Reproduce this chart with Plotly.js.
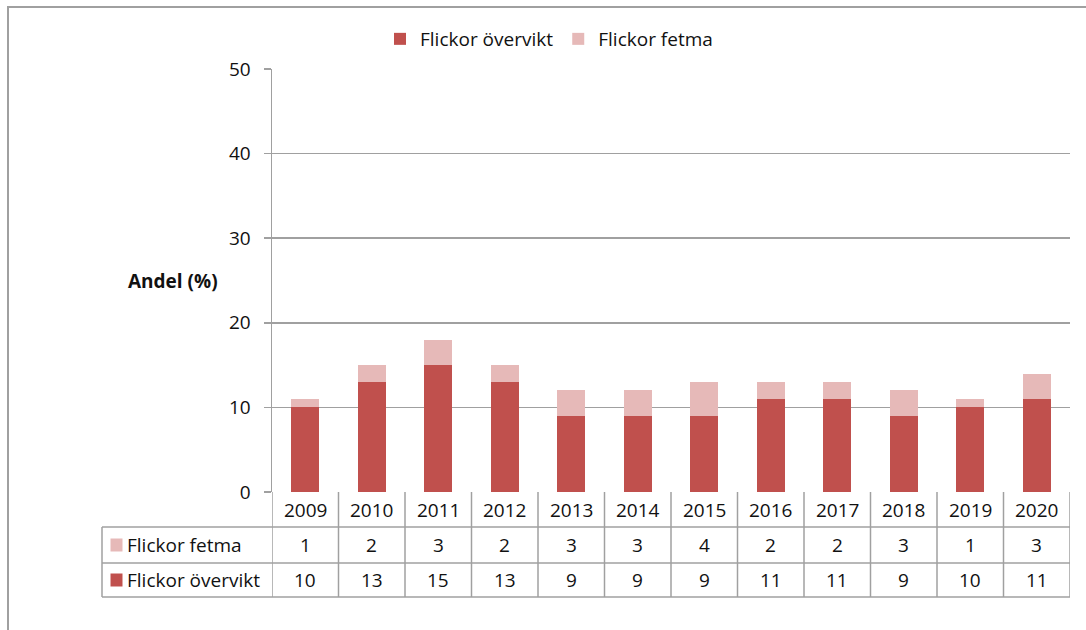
<!DOCTYPE html>
<html><head><meta charset="utf-8">
<script src="https://cdn.plot.ly/plotly-3.0.1.min.js"></script>
<style>body{margin:0;background:#fff}#chart{width:1086px;height:630px}</style>
</head><body><div id="chart"></div>
<script>
const years = ['2009','2010','2011','2012','2013','2014','2015','2016','2017','2018','2019','2020'];
const overvikt = [10,13,15,13,9,9,9,11,11,9,10,11];
const fetma = [1,2,3,2,3,3,4,2,2,3,1,3];
const seriesNames = ['Flickor övervikt','Flickor fetma'];
const yTicks = [0,10,20,30,40,50];
const yTitle = 'Andel (%)';

const colors = ['#C0504D','#E6B9B8'];
const gridColor = '#a0a0a0';
const textColor = '#111111';
const FONT = 'Open Sans, Liberation Sans, sans-serif';
const FS = 19;

// pixel -> paper helpers (plot area 272..1070 x 69..492)
const L = 272, R = 1070, T = 69, B = 492;
const W = R - L, H = B - T;
const xp = px => (px - L) / W;
const yp = py => (B - py) / H;

const traces = [
  {type:'bar', name:seriesNames[0], x:years, y:overvikt, marker:{color:colors[0]}, width:0.42, hoverinfo:'skip'},
  {type:'bar', name:seriesNames[1], x:years, y:fetma, marker:{color:colors[1]}, width:0.42, hoverinfo:'skip'}
];

const shapes = [];
const annotations = [];
const lineStyle = {color:gridColor, width:1.5};

// table vertical lines at category boundaries
for (let i = 0; i <= years.length; i++) {
  shapes.push({type:'line', xref:'x', yref:'paper', x0:i-0.5, x1:i-0.5, y0:yp(492), y1:yp(597), line:lineStyle});
}
// left border of label column
shapes.push({type:'line', xref:'paper', yref:'paper', x0:xp(102), x1:xp(102), y0:yp(527), y1:yp(597), line:lineStyle});
// horizontal lines
[527, 563, 597].forEach(py => {
  shapes.push({type:'line', xref:'paper', yref:'paper', x0:xp(102), x1:1, y0:yp(py), y1:yp(py), line:lineStyle});
});
// outer chart border
shapes.push({type:'rect', xref:'paper', yref:'paper', x0:xp(8), x1:xp(1100), y0:yp(7), y1:yp(650), line:{color:gridColor, width:2}, fillcolor:'rgba(0,0,0,0)'});

// legend keys in table
const rowY = [545, 580];
const rowSeries = [[seriesNames[1], fetma, colors[1]], [seriesNames[0], overvikt, colors[0]]];
rowSeries.forEach((r, k) => {
  const cy = rowY[k];
  shapes.push({type:'rect', xref:'paper', yref:'paper', x0:xp(110.5), x1:xp(122.5), y0:yp(cy-6.5), y1:yp(cy+6.5), line:{width:0}, fillcolor:r[2]});
  annotations.push({xref:'paper', yref:'paper', x:xp(125), y:yp(cy), xanchor:'left', yanchor:'middle', text:r[0], showarrow:false, font:{family:FONT, size:FS, color:textColor}});
  r[1].forEach((v, i) => {
    annotations.push({xref:'x', yref:'paper', x:i, y:yp(cy), xanchor:'center', yanchor:'middle', text:String(v), showarrow:false, font:{family:FONT, size:FS, color:textColor}});
  });
});
// header years
years.forEach((yv, i) => {
  annotations.push({xref:'x', yref:'paper', x:i, y:yp(509.5), xanchor:'center', yanchor:'middle', text:yv, showarrow:false, font:{family:FONT, size:FS, color:textColor}});
});
// y axis title (horizontal)
annotations.push({xref:'paper', yref:'y', x:xp(173), y:25, xanchor:'center', yanchor:'middle', text:'<b>'+yTitle+'</b>', showarrow:false, font:{family:FONT, size:FS, color:textColor}});

const layout = {
  width:1086, height:630,
  margin:{l:L, r:1086-R, t:T, b:630-B, pad:0},
  paper_bgcolor:'#fff', plot_bgcolor:'#fff',
  barmode:'stack',
  showlegend:true,
  legend:{orientation:'h', x:xp(549), xanchor:'center', y:yp(39), yanchor:'middle', traceorder:'normal',
          font:{family:FONT, size:FS, color:textColor}, itemwidth:30},
  xaxis:{type:'category', range:[-0.5, years.length-0.5], showticklabels:false, showgrid:false, zeroline:false, showline:false, ticks:'', fixedrange:true},
  yaxis:{range:[0,50], tickvals:yTicks, ticktext:yTicks.map(String), showgrid:true, gridcolor:gridColor, gridwidth:1.5,
         zeroline:false, showline:true, linecolor:gridColor, linewidth:1.5, ticks:'outside', ticklen:7, tickcolor:gridColor, tickwidth:1.5,
         ticklabelstandoff:9, tickfont:{family:FONT, size:FS, color:textColor}, fixedrange:true},
  shapes:shapes,
  annotations:annotations
};

Plotly.newPlot('chart', traces, layout, {displayModeBar:false, staticPlot:true});
</script>
</body></html>
